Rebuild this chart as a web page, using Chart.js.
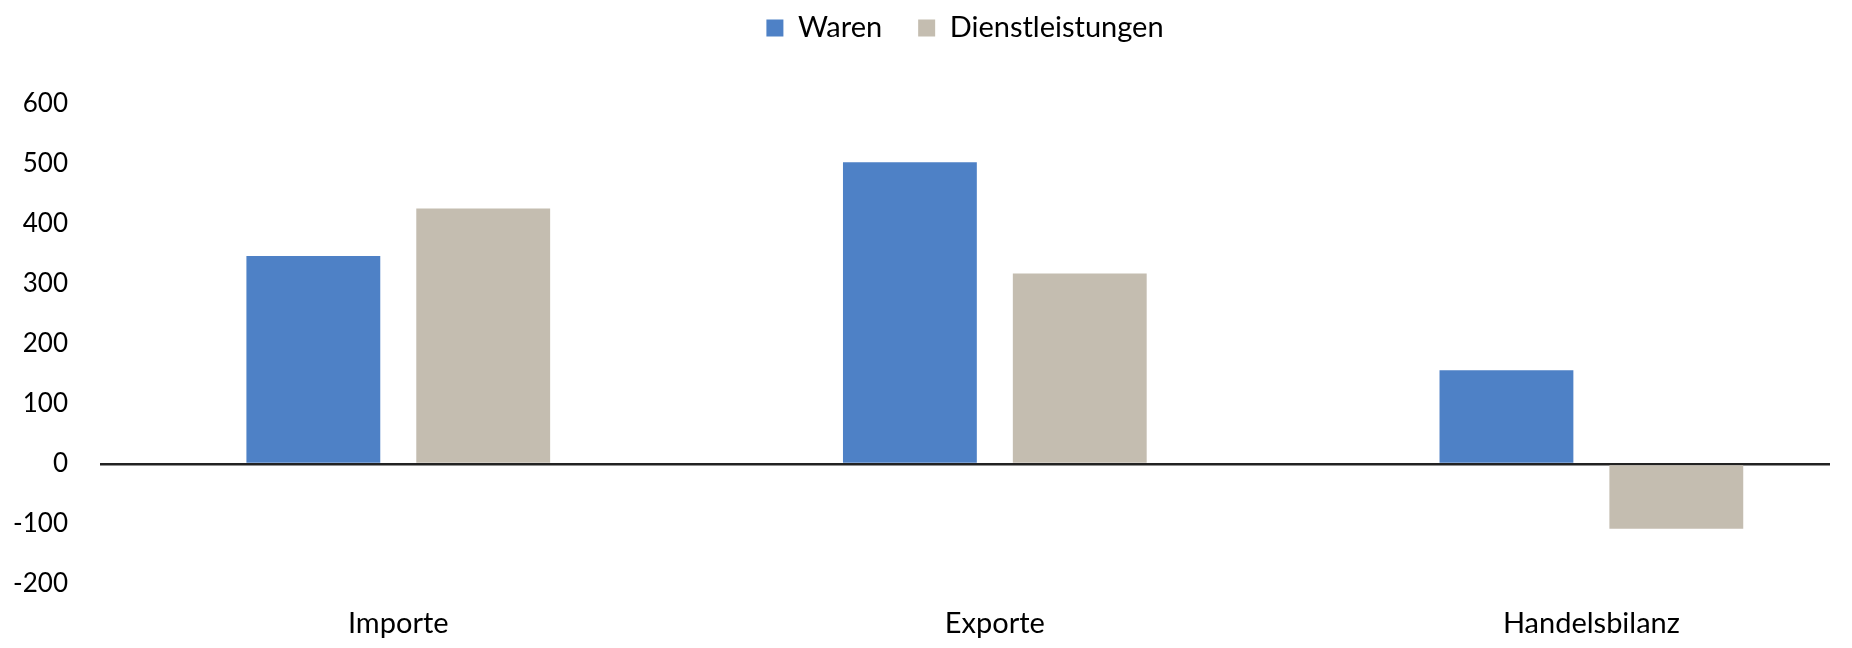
<!DOCTYPE html>
<html>
<head>
<meta charset="utf-8">
<script src="https://cdn.jsdelivr.net/npm/chart.js@4"></script>
<style>
  html, body { margin: 0; padding: 0; background: #fff; overflow: hidden; }
  #wrap { width: 1852px; height: 648px; }
</style>
</head>
<body>
<div id="wrap"><canvas id="chart" width="1852" height="648"></canvas></div>
<script>
// data
const categories = ['Importe', 'Exporte', 'Handelsbilanz'];
const waren = [346, 502, 156];
const dienstleistungen = [425, 317, -108];
const yTicks = [-200, -100, 0, 100, 200, 300, 400, 500, 600];

const FONT = 'Lato, "Liberation Sans", sans-serif';

// push the plot area down below the legend, and center the legend on the plot area
const legendGap = {
  id: 'legendGap',
  beforeInit(chart) {
    const fit = chart.legend.fit;
    chart.legend.fit = function () {
      fit.call(this);
      this.height += 51;
    };
  },
  afterLayout(chart) {
    chart.legend.left += chart.chartArea.left;
  }
};

new Chart(document.getElementById('chart'), {
  type: 'bar',
  data: {
    datasets: [
      {
        label: 'Waren',
        data: waren.map((v, i) => ({ x: i, y: v })),
        backgroundColor: '#4e81c6'
      },
      {
        label: 'Dienstleistungen',
        data: dienstleistungen.map((v, i) => ({ x: i, y: v })),
        backgroundColor: '#c4bdb0'
      }
    ]
  },
  plugins: [legendGap],
  options: {
    responsive: false,
    animation: false,
    categoryPercentage: 0.5695,
    barPercentage: 0.788,
    layout: { padding: { top: -22.5, right: 22, bottom: 0, left: 0 } },
    plugins: {
      tooltip: { enabled: false },
      legend: {
        position: 'top',
        labels: {
          font: { family: FONT, size: 29 },
          color: '#000',
          boxWidth: 17,
          boxHeight: 17,
          padding: 36
        }
      }
    },
    scales: {
      x: {
        type: 'linear',
        offset: false,
        min: -0.5,
        max: 2.4,
        grid: { display: false, drawTicks: false },
        border: { display: false },
        afterBuildTicks: s => {
          s.ticks = categories.map((c, i) => ({ value: i }));
        },
        afterFit: s => { s.height = 64; },
        ticks: {
          autoSkip: false,
          maxRotation: 0,
          padding: 22,
          font: { family: FONT, size: 29 },
          color: '#000',
          callback: v => categories[v]
        }
      },
      y: {
        min: -200,
        max: 600,
        afterBuildTicks: s => {
          s.ticks = yTicks.map(v => ({ value: v }));
        },
        afterFit: s => { s.width = 100; },
        border: { display: false },
        grid: {
          drawTicks: false,
          color: c => (c.tick && c.tick.value === 0 ? '#222' : 'rgba(0,0,0,0)'),
          lineWidth: c => (c.tick && c.tick.value === 0 ? 2.5 : 0)
        },
        ticks: {
          padding: 32,
          font: { family: FONT, size: 26 },
          color: '#000'
        }
      }
    }
  }
});
</script>
</body>
</html>
